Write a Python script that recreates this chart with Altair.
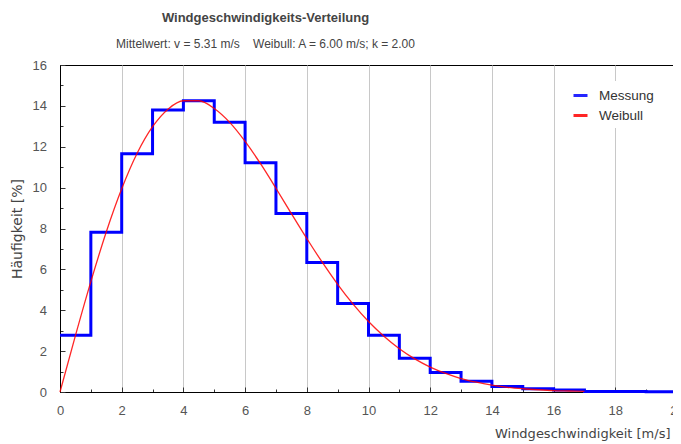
import altair as alt
import pandas as pd

# --- data ---
bin_start = list(range(0, 21))  # 0..20 (20 = right end of last bin)
messung = [2.78, 7.82, 11.66, 13.80, 14.25, 13.20, 11.22, 8.73, 6.34, 4.33,
           2.78, 1.65, 0.95, 0.52, 0.27, 0.16, 0.10, 0.03, 0.02, 0.01]

v_weibull = [0, 0.5, 1, 1.5, 2, 2.5, 3, 3.5, 4, 4.5, 5, 5.5, 6, 6.5, 7, 7.5, 8,
             8.5, 9, 9.5, 10, 10.5, 11, 11.5, 12, 12.5, 13, 13.5, 14, 14.5, 15,
             15.5, 16, 16.5, 17]
weibull = [0.0, 2.76, 5.40, 7.83, 9.94, 11.68, 12.98, 13.84, 14.25, 14.25, 13.87,
           13.19, 12.26, 11.17, 9.97, 8.73, 7.51, 6.35, 5.27, 4.30, 3.45, 2.73,
           2.12, 1.62, 1.22, 0.91, 0.66, 0.48, 0.34, 0.23, 0.16, 0.11, 0.07, 0.05,
           0.03]

series = ["Messung", "Weibull"]
series_colors = ["#0000ff", "#ff0000"]
x_ticks = list(range(0, 21))
y_ticks = list(range(0, 17))

NB = "\u00a0"
title_text = "Windgeschwindigkeits-Verteilung"
subtitle_text = "Mittelwert: v = 5.31 m/s" + NB * 4 + "Weibull: A = 6.00 m/s; k = 2.00"

df_m = pd.DataFrame({"v": bin_start, "h": messung + [messung[-1]], "serie": series[0]})
df_w = pd.DataFrame({"v": v_weibull, "h": weibull, "serie": series[1]})

W, H = 617, 327

color = alt.Color(
    "serie:N",
    scale=alt.Scale(domain=series, range=series_colors),
    legend=alt.Legend(
        title=None, orient="none", legendX=506, legendY=16,
        symbolType="stroke", symbolSize=196, symbolStrokeWidth=3,
        labelFont="Liberation Sans", labelFontSize=13.5, labelColor="#333",
        labelOffset=10, rowPadding=5, padding=6,
        fillColor="white", strokeColor=None,
    ),
)

major = "datum.value % 2 === 0"

x_enc = alt.X(
    "v:Q",
    scale=alt.Scale(domain=[0, 20], nice=False, zero=True),
    axis=alt.Axis(
        values=x_ticks,
        labelExpr="datum.value % 2 === 0 ? datum.label : ''",
        title="Windgeschwindigkeit [m/s]",
        titleFont="DejaVu Sans", titleFontSize=13, titleFontWeight="normal",
        titleColor="#444", titleAlign="right", titleBaseline="alphabetic",
        titleX=610, titleY=45,
        labelFont="Liberation Sans", labelFontSize=13, labelColor="#555",
        labelPadding=17, labelFlush=False,
        tickSize={"condition": {"test": major, "value": -5}, "value": -3},
        tickColor="#333",
        domainColor="#000",
        grid=True,
        gridColor="#c8c8c8",
        gridOpacity={"condition": {"test": major + " && datum.value > 0 && datum.value < 20", "value": 1}, "value": 0},
    ),
)

y_enc = alt.Y(
    "h:Q",
    scale=alt.Scale(domain=[0, 16], nice=False),
    axis=alt.Axis(
        values=y_ticks,
        labelExpr="datum.value % 2 === 0 ? datum.label : ''",
        title="Häufigkeit [%]",
        titleFont="DejaVu Sans", titleFontSize=14, titleFontWeight="normal",
        titleColor="#444", titleBaseline="middle", titleAngle=270,
        titleX=-43, titleY=163.5,
        labelFont="Liberation Sans", labelFontSize=13, labelColor="#555",
        labelPadding=18.5,
        tickSize={"condition": {"test": major, "value": -5}, "value": -3},
        tickColor="#333",
        domainColor="#000",
        grid=False,
    ),
)

messung_line = alt.Chart(df_m).mark_line(
    interpolate="step-after", strokeWidth=3
).encode(x=x_enc, y=y_enc, color=color)

weibull_line = alt.Chart(df_w).mark_line(
    interpolate="monotone", strokeWidth=1.3, opacity=0.85
).encode(x=x_enc, y=y_enc, color=color)

chart = alt.layer(messung_line, weibull_line).properties(
    width=W, height=H,
    title=alt.TitleParams(
        text=title_text, subtitle=subtitle_text,
        font="Liberation Sans", fontSize=13, fontWeight="bold", color="#444",
        subtitleFont="Liberation Sans", subtitleFontSize=12, subtitleColor="#444",
        anchor="middle", dx=-103, offset=9, subtitlePadding=14.5,
    ),
    autosize=alt.AutoSizeParams(type="none"),
    padding={"left": 52, "top": 57, "right": -4, "bottom": 50},
    background="white",
).configure_view(stroke="#000", strokeWidth=1)

chart.save("out.html", embed_options={"renderer": "svg", "actions": False})
